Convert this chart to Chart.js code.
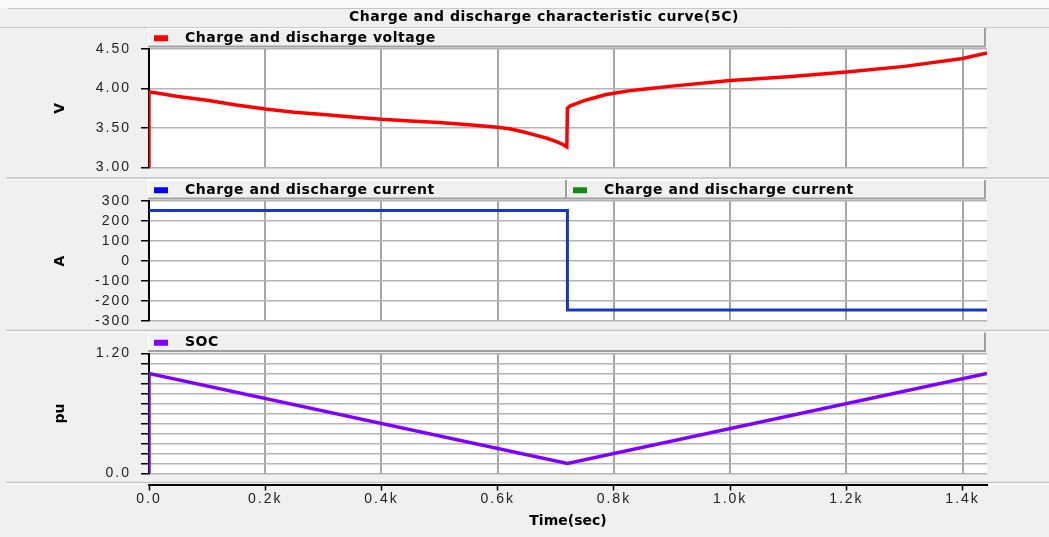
<!DOCTYPE html>
<html>
<head>
<meta charset="utf-8">
<script src="https://cdn.jsdelivr.net/npm/chart.js@4"></script>
<style>
  html, body { margin: 0; padding: 0; background: #f0f0f0; }
  #wrap { position: relative; width: 1049px; height: 537px; }
  #wrap canvas { position: absolute; left: 0; top: 0; }
</style>
</head>
<body>
<div id="wrap">
  <canvas id="vChart" width="1049" height="537"></canvas>
  <canvas id="aChart" width="1049" height="537"></canvas>
  <canvas id="socChart" width="1049" height="537"></canvas>
  <canvas id="timeAxis" width="1049" height="537"></canvas>
</div>
<script>
// time axis (sec)
const timeMax = 1442;
const timeTicks = [0, 200, 400, 600, 800, 1000, 1200, 1400];
const timeTickLabels = ['0.0', '0.2k', '0.4k', '0.6k', '0.8k', '1.0k', '1.2k', '1.4k'];

// voltage (V)
const voltageTime = [0, 0, 50, 100, 150, 200, 250, 300, 350, 400, 450, 500, 550, 600, 620, 645, 665, 685, 700, 710, 719,
  720, 725, 735, 750, 765, 785, 800, 825, 850, 900, 1000, 1100, 1200, 1300, 1400, 1442];
const voltageValues = [3.00, 3.96, 3.90, 3.85, 3.79, 3.74, 3.70, 3.67, 3.64, 3.61, 3.59, 3.57, 3.54, 3.51, 3.49, 3.45, 3.41, 3.37, 3.33, 3.30, 3.26,
  3.75, 3.78, 3.81, 3.85, 3.88, 3.92, 3.94, 3.97, 3.99, 4.03, 4.10, 4.15, 4.21, 4.28, 4.38, 4.45];
const voltageTicks = [3.0, 3.5, 4.0, 4.5];
const voltageTickLabels = ['3.00', '3.50', '4.00', '4.50'];

// current (A)
const currentTime = [0, 720, 720, 1442];
const currentValues = [252, 252, -245, -245];
const currentTicks = [-300, -200, -100, 0, 100, 200, 300];
const currentTickLabels = ['-300', '-200', '-100', '0', '100', '200', '300'];

// SOC (pu)
const socTime = [0, 0, 720, 1442];
const socValues = [0, 1.0, 0.10, 1.0];
const socTicks = [0, 0.1, 0.2, 0.3, 0.4, 0.5, 0.6, 0.7, 0.8, 0.9, 1.0, 1.1, 1.2];
const socTickLabels = ['0.0', '', '', '', '', '', '', '', '', '', '', '', '1.20'];

const W = 1049, H = 537;
const PLOT_LEFT = 149, PLOT_RIGHT = 987;

function toPoints(xs, ys) {
  return xs.map((x, i) => ({ x: x, y: ys[i] }));
}

// 배경, 제목줄, 패널 구분선
const framePlugin = {
  id: 'frame',
  beforeDraw(chart) {
    const ctx = chart.ctx;
    ctx.save();
    ctx.fillStyle = '#f0f0f0';
    ctx.fillRect(0, 0, W, H);
    ctx.fillStyle = '#fafafa';
    ctx.fillRect(0, 0, W, 8);
    ctx.strokeStyle = '#c8c8c8';
    ctx.lineWidth = 1;
    ctx.beginPath();
    ctx.moveTo(8, 8.5); ctx.lineTo(W, 8.5);
    ctx.moveTo(0, 27.5); ctx.lineTo(W, 27.5);
    ctx.stroke();
    ctx.fillStyle = '#000';
    ctx.font = 'bold 14px "DejaVu Sans"';
    ctx.letterSpacing = '0.5px';
    ctx.textAlign = 'center';
    ctx.textBaseline = 'middle';
    ctx.fillText('Charge and discharge characteristic curve(5C)', 544, 17.5);
    ctx.letterSpacing = '0px';
    [178, 330.5, 482.5].forEach(y => {
      ctx.strokeStyle = '#c4c4c4';
      ctx.lineWidth = 1.5;
      ctx.beginPath(); ctx.moveTo(6, y); ctx.lineTo(W, y); ctx.stroke();
      ctx.strokeStyle = '#ffffff';
      ctx.lineWidth = 1;
      ctx.beginPath(); ctx.moveTo(6, y + 1.5); ctx.lineTo(W, y + 1.5); ctx.stroke();
    });
    ctx.restore();
  }
};

// 플롯 영역 흰 배경
const plotBgPlugin = {
  id: 'plotBg',
  beforeDraw(chart) {
    const a = chart.chartArea;
    const ctx = chart.ctx;
    ctx.save();
    ctx.fillStyle = '#ffffff';
    ctx.fillRect(a.left, a.top, a.right - a.left, a.bottom - a.top);
    ctx.restore();
  }
};

// 눈금 글자 간격 (눈금 라벨은 데이터 뒤에 그려짐)
const spacingPlugin = {
  id: 'tickSpacing',
  afterDatasetsDraw(chart) { chart.ctx.letterSpacing = '2px'; },
  afterDraw(chart) { chart.ctx.letterSpacing = '0px'; }
};

// 플롯 위 범례 막대
const legendBarPlugin = {
  id: 'legendBar',
  afterDraw(chart, args, opts) {
    const items = opts.items || [];
    if (!items.length) return;
    const a = chart.chartArea;
    const ctx = chart.ctx;
    const x0 = a.left - 1, x1 = a.right - 1;
    const top = a.top - 21, bottom = a.top - 1.5;
    const step = (x1 - x0) / items.length;
    ctx.save();
    items.forEach((it, i) => {
      const bx0 = x0 + step * i, bx1 = bx0 + step;
      ctx.fillStyle = '#f0f0f0';
      ctx.fillRect(bx0, top, bx1 - bx0, bottom - top);
      ctx.strokeStyle = '#ffffff';
      ctx.lineWidth = 1;
      ctx.beginPath();
      ctx.moveTo(bx0 + 0.5, bottom); ctx.lineTo(bx0 + 0.5, top + 0.5); ctx.lineTo(bx1, top + 0.5);
      ctx.stroke();
      ctx.strokeStyle = '#a0a0a0';
      ctx.lineWidth = 2;
      ctx.beginPath();
      ctx.moveTo(bx1 - 1, top); ctx.lineTo(bx1 - 1, bottom - 1); ctx.lineTo(bx0, bottom - 1);
      ctx.stroke();
      const cy = (top + bottom) / 2 + 0.5;
      ctx.fillStyle = it.color;
      ctx.fillRect(bx0 + 6, cy - 3, 14, 6);
      ctx.fillStyle = '#000';
      ctx.font = 'bold 14px "DejaVu Sans"';
      ctx.letterSpacing = '0.5px';
      ctx.textAlign = 'left';
      ctx.textBaseline = 'middle';
      ctx.fillText(it.label, bx0 + 37, cy);
      ctx.letterSpacing = '0px';
    });
    ctx.restore();
  }
};

const tickFont = { family: 'Liberation Sans', size: 14 };

function timeGridAxis() {
  return {
    type: 'linear',
    min: 0,
    max: timeMax,
    afterBuildTicks: s => { s.ticks = timeTicks.map(v => ({ value: v })); },
    afterFit: s => { s.height = 0; },
    ticks: { display: false, autoSkip: false },
    grid: { color: '#a6a6a6', lineWidth: 2, drawTicks: false },
    border: { display: false }
  };
}

function valueAxis(min, max, ticks, labels, title) {
  return {
    type: 'linear',
    min: min,
    max: max,
    afterBuildTicks: s => { s.ticks = ticks.map(v => ({ value: v })); },
    afterFit: s => { s.width = PLOT_LEFT - 50; },
    ticks: {
      autoSkip: false,
      callback: (v, i) => labels[i],
      color: '#222',
      font: tickFont,
      padding: 10,
      z: 1
    },
    grid: { color: '#b4b4b4', lineWidth: 1.5, tickColor: '#000', tickLength: 8, tickWidth: 1.5 },
    border: { color: '#000', width: 2 },
    title: {
      display: true,
      text: title,
      color: '#000',
      font: { family: 'DejaVu Sans', size: 14, weight: 'bold' },
      padding: { top: 2, bottom: 0 }
    }
  };
}

function panelConfig(top, bottom, datasets, yAxis, legendItems, extraPlugins) {
  return {
    type: 'line',
    data: { datasets: datasets },
    options: {
      responsive: false,
      animation: false,
      events: [],
      layout: { padding: { top: top, bottom: H - bottom, left: 50, right: W - PLOT_RIGHT } },
      scales: { x: timeGridAxis(), y: yAxis },
      plugins: {
        legend: { display: false },
        tooltip: { enabled: false },
        legendBar: { items: legendItems }
      }
    },
    plugins: extraPlugins.concat([plotBgPlugin, spacingPlugin, legendBarPlugin])
  };
}

function lineSet(label, xs, ys, color, width) {
  return {
    label: label,
    data: toPoints(xs, ys),
    borderColor: color,
    backgroundColor: color,
    borderWidth: width,
    pointRadius: 0,
    tension: 0,
    fill: false
  };
}

// 전압
new Chart(document.getElementById('vChart'), panelConfig(
  49, 167.5,
  [lineSet('Charge and discharge voltage', voltageTime, voltageValues, '#ff0000', 3.5)],
  valueAxis(3, 4.5, voltageTicks, voltageTickLabels, 'V'),
  [{ label: 'Charge and discharge voltage', color: '#ff0000' }],
  [framePlugin]
));

// 전류
new Chart(document.getElementById('aChart'), panelConfig(
  201, 321,
  [lineSet('Charge and discharge current', currentTime, currentValues, '#1536c8', 3)],
  valueAxis(-300, 300, currentTicks, currentTickLabels, 'A'),
  [{ label: 'Charge and discharge current', color: '#0000ff' },
   { label: 'Charge and discharge current', color: '#118a11' }],
  []
));

// SOC
new Chart(document.getElementById('socChart'), panelConfig(
  353.5, 473.5,
  [lineSet('SOC', socTime, socValues, '#8000ff', 3.5)],
  valueAxis(0, 1.2, socTicks, socTickLabels, 'pu'),
  [{ label: 'SOC', color: '#8000ff' }],
  []
));

// 하단 시간축
new Chart(document.getElementById('timeAxis'), {
  type: 'line',
  data: { datasets: [] },
  options: {
    responsive: false,
    animation: false,
    events: [],
    layout: { padding: { top: 480, bottom: 0, left: PLOT_LEFT, right: W - PLOT_RIGHT } },
    scales: {
      x: {
        type: 'linear',
        min: 0,
        max: timeMax,
        afterBuildTicks: s => { s.ticks = timeTicks.map(v => ({ value: v })); },
        afterFit: s => { s.height = H - 484.5; },
        ticks: {
          autoSkip: false,
          maxRotation: 0,
          callback: (v, i) => timeTickLabels[i],
          color: '#222',
          font: tickFont,
          padding: 0,
          z: 1
        },
        grid: { drawOnChartArea: false, tickLength: 6, tickColor: '#000', tickWidth: 1.5 },
        border: { color: '#000', width: 2 },
        title: {
          display: true,
          text: 'Time(sec)',
          color: '#000',
          font: { family: 'DejaVu Sans', size: 14, weight: 'bold' },
          padding: { top: 0, bottom: 7 }
        }
      },
      y: { display: false, min: 0, max: 1 }
    },
    plugins: { legend: { display: false }, tooltip: { enabled: false } }
  },
  plugins: [spacingPlugin]
});
</script>
</body>
</html>
